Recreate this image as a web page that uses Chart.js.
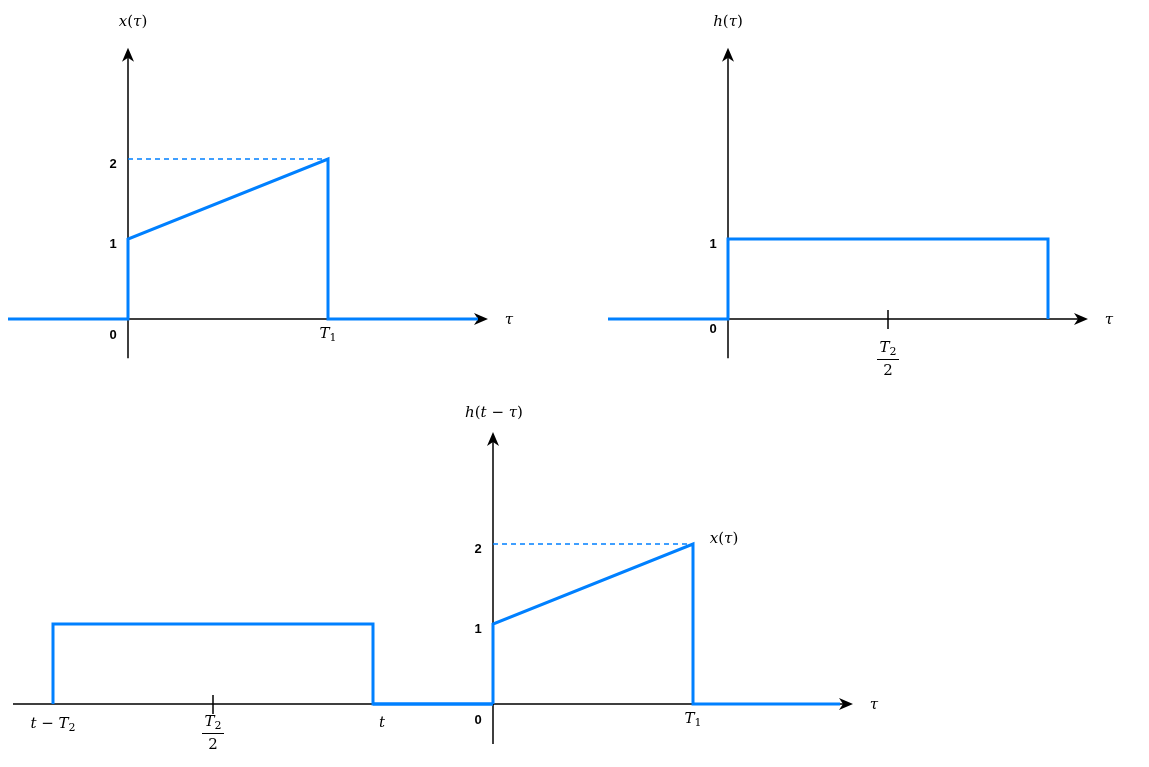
<!DOCTYPE html>
<html>
<head>
<meta charset="utf-8">
<script src="https://cdn.jsdelivr.net/npm/chart.js@4/dist/chart.umd.min.js"></script>
<style>
  body { margin: 0; background: #fff; }
  canvas { display: block; }
</style>
</head>
<body>
<canvas id="conv" width="1149" height="767"></canvas>
<script>
// signal values, tau in units where T1 = 1, T2 = 1.6
const xTau = [-0.6, 0, 0, 1, 1, 1.75];
const xVal = [0, 0, 1, 2, 0, 0];
const hTau = [-0.6, 0, 0, 1.6, 1.6];
const hVal = [0, 0, 1, 1, 0];
const hFlipTau = [-2.2, -2.2, -0.6, -0.6, 0];
const hFlipVal = [0, 1, 1, 0, 0];
const xShiftTau = [0, 0, 1, 1, 1.735];
const xShiftVal = [0, 1, 2, 0, 0];
const dashTau = [0, 1];
const dashVal = [2, 2];
const yTicks = ['0', '1', '2'];

const W = 1149, H = 767;
const PX = 200, PY = 80;
const BLUE = '#0080ff';

const xRange = (o) => ({ min: -o / PX, max: (W - o) / PX });
const yRange = (o) => ({ min: -(H - o) / PY, max: o / PY });

const pts = (xs, ys) => xs.map((v, i) => ({ x: v, y: ys[i] }));

const line = (data, xAxisID, yAxisID, dash) => ({
    data,
    xAxisID,
    yAxisID,
    showLine: true,
    borderColor: BLUE,
    borderWidth: dash ? 1.5 : 3,
    borderDash: dash ? [5, 4] : [],
    pointRadius: 0,
    tension: 0,
    fill: false
});

// math-ish text: segments of {t, i (italic), sub}
function mathText(ctx, cx, cy, segs, size) {
    size = size || 15;
    const fontOf = s => s.sub
        ? `${Math.round(size * 0.7)}px "DejaVu Serif"`
        : `${s.i ? 'italic ' : ''}${size}px "DejaVu Serif"`;
    let total = 0;
    segs.forEach(s => { ctx.font = fontOf(s); total += ctx.measureText(s.t).width; });
    let x = cx - total / 2;
    ctx.textBaseline = 'middle';
    ctx.textAlign = 'left';
    segs.forEach(s => {
        ctx.font = fontOf(s);
        ctx.fillText(s.t, x, s.sub ? cy + 4 : cy);
        x += ctx.measureText(s.t).width;
    });
}

function fraction(ctx, cx, cy) {
    mathText(ctx, cx, cy, [{ t: 'T', i: true }, { t: '2', sub: true }]);
    ctx.beginPath();
    ctx.lineWidth = 1;
    ctx.moveTo(cx - 11, cy + 11.5);
    ctx.lineTo(cx + 11, cy + 11.5);
    ctx.stroke();
    mathText(ctx, cx, cy + 23, [{ t: '2' }]);
}

function arrow(ctx, x, y, dir) {
    // dir: 'r' or 'u', draw.io classic head
    ctx.beginPath();
    if (dir === 'r') {
        ctx.moveTo(x, y);
        ctx.lineTo(x - 14, y - 6);
        ctx.lineTo(x - 10, y);
        ctx.lineTo(x - 14, y + 6);
    } else {
        ctx.moveTo(x, y);
        ctx.lineTo(x - 6, y + 14);
        ctx.lineTo(x, y + 10);
        ctx.lineTo(x + 6, y + 14);
    }
    ctx.closePath();
    ctx.fill();
}

const axesPlugin = {
    id: 'axes',
    beforeDatasetsDraw(chart) {
        const { ctx, scales } = chart;
        const frames = [
            { x: scales.xL, y: scales.yT, x0: 0, x1: 1.8, y0: -0.49, y1: 3.39 },
            { x: scales.xR, y: scales.yT, x0: 0, x1: 1.8, y0: -0.49, y1: 3.39 },
            { x: scales.xB, y: scales.yB, x0: -2.4, x1: 1.8, y0: -0.5, y1: 3.4 }
        ];
        ctx.save();
        ctx.strokeStyle = '#000';
        ctx.fillStyle = '#000';
        ctx.lineWidth = 1.5;
        frames.forEach(f => {
            const ox = f.x.getPixelForValue(0), oy = f.y.getPixelForValue(0);
            const ax0 = f.x.getPixelForValue(f.x0), ax1 = f.x.getPixelForValue(f.x1);
            const ay0 = f.y.getPixelForValue(f.y0), ay1 = f.y.getPixelForValue(f.y1);
            ctx.beginPath();
            ctx.moveTo(ax0, oy); ctx.lineTo(ax1 - 10, oy);
            ctx.moveTo(ox, ay0); ctx.lineTo(ox, ay1 + 10);
            ctx.stroke();
            arrow(ctx, ax1, oy, 'r');
            arrow(ctx, ox, ay1, 'u');
        });
        // T2/2 tick marks
        [[scales.xR, scales.yT, 0.8], [scales.xB, scales.yB, -1.4]].forEach(([sx, sy, v]) => {
            const px = sx.getPixelForValue(v), py = sy.getPixelForValue(0);
            ctx.beginPath();
            ctx.moveTo(px, py - 9); ctx.lineTo(px, py + 10);
            ctx.stroke();
        });
        ctx.restore();
    },
    afterDraw(chart) {
        const { ctx, scales } = chart;
        const { xL, xR, xB, yT, yB } = scales;
        ctx.save();
        ctx.fillStyle = '#000';
        ctx.strokeStyle = '#000';

        // numeric ticks
        ctx.font = 'bold 13px "Liberation Sans"';
        ctx.textAlign = 'center';
        ctx.textBaseline = 'middle';
        const num = (sx, sy, vals, zeroOff) => {
            const px = sx.getPixelForValue(0) - 15;
            vals.forEach(v => {
                const y = sy.getPixelForValue(Number(v)) + (v === '0' ? zeroOff : 5);
                ctx.fillText(v, px, y);
            });
        };
        num(xL, yT, yTicks, 16);
        num(xR, yT, yTicks.slice(0, 2), 10);
        num(xB, yB, yTicks, 16);

        const tau = [{ t: 'τ', i: true }];
        const xOf = [{ t: 'x', i: true }, { t: '(' }, { t: 'τ', i: true }, { t: ')' }];
        const T1 = [{ t: 'T', i: true }, { t: '1', sub: true }];

        // top-left
        mathText(ctx, xL.getPixelForValue(0) + 5, 22, xOf);
        mathText(ctx, xL.getPixelForValue(1), yT.getPixelForValue(0) + 15, T1);
        mathText(ctx, xL.getPixelForValue(1.8) + 21, yT.getPixelForValue(0) + 1, tau);

        // top-right
        mathText(ctx, xR.getPixelForValue(0), 22,
            [{ t: 'h', i: true }, { t: '(' }, { t: 'τ', i: true }, { t: ')' }]);
        mathText(ctx, xR.getPixelForValue(1.8) + 21, yT.getPixelForValue(0) + 1, tau);
        fraction(ctx, xR.getPixelForValue(0.8), yT.getPixelForValue(0) + 29);

        // bottom
        mathText(ctx, xB.getPixelForValue(0) + 1, 413,
            [{ t: 'h', i: true }, { t: '(' }, { t: 't', i: true }, { t: ' − ' }, { t: 'τ', i: true }, { t: ')' }]);
        mathText(ctx, xB.getPixelForValue(1) + 31, yB.getPixelForValue(2) - 5, xOf);
        mathText(ctx, xB.getPixelForValue(1), yB.getPixelForValue(0) + 15, T1);
        mathText(ctx, xB.getPixelForValue(1.8) + 21, yB.getPixelForValue(0) + 1, tau);
        mathText(ctx, xB.getPixelForValue(-2.2), yB.getPixelForValue(0) + 20,
            [{ t: 't', i: true }, { t: ' − ' }, { t: 'T', i: true }, { t: '2', sub: true }]);
        mathText(ctx, xB.getPixelForValue(-0.6) + 9, yB.getPixelForValue(0) + 19, [{ t: 't', i: true }]);
        fraction(ctx, xB.getPixelForValue(-1.4), yB.getPixelForValue(0) + 18);

        ctx.restore();
    }
};

new Chart(document.getElementById('conv'), {
    type: 'scatter',
    data: {
        datasets: [
            line(pts(dashTau, dashVal), 'xL', 'yT', true),
            line(pts(xTau, xVal), 'xL', 'yT'),
            line(pts(hTau, hVal), 'xR', 'yT'),
            line(pts(dashTau, dashVal), 'xB', 'yB', true),
            line(pts(hFlipTau, hFlipVal), 'xB', 'yB'),
            line(pts([-0.6, 0], [0, 0]), 'xB', 'yB'),
            line(pts(xShiftTau, xShiftVal), 'xB', 'yB')
        ]
    },
    options: {
        responsive: false,
        animation: false,
        layout: { padding: 0 },
        plugins: { legend: { display: false }, tooltip: { enabled: false } },
        scales: {
            xL: { type: 'linear', display: false, ...xRange(128) },
            xR: { type: 'linear', display: false, ...xRange(728) },
            xB: { type: 'linear', display: false, ...xRange(493) },
            yT: { type: 'linear', display: false, position: 'left', ...yRange(319) },
            yB: { type: 'linear', display: false, position: 'left', ...yRange(704) }
        }
    },
    plugins: [axesPlugin]
});
</script>
</body>
</html>
